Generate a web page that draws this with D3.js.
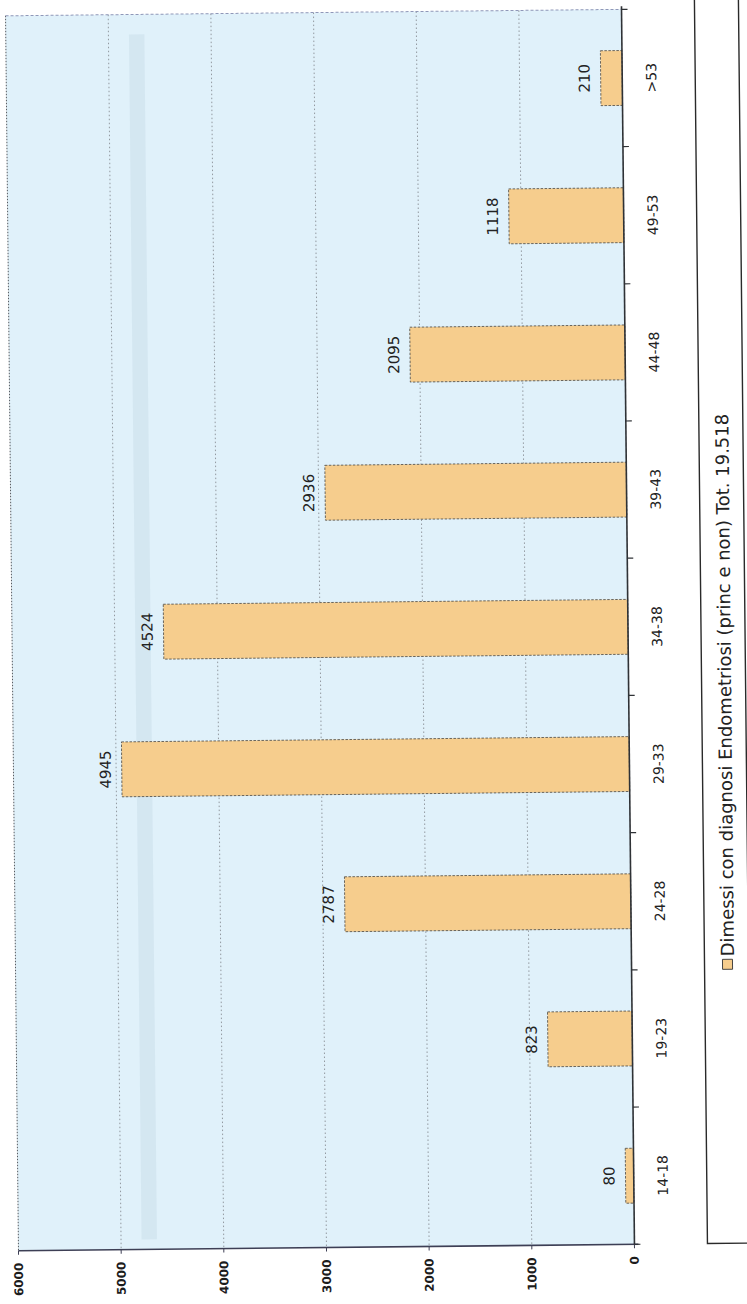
<!DOCTYPE html>
<html>
<head>
<meta charset="utf-8">
<script src="https://cdn.jsdelivr.net/npm/d3@7"></script>
<style>
  html, body { margin: 0; padding: 0; background: #ffffff; }
  svg { display: block; }
</style>
</head>
<body>
<svg id="chart" width="747" height="1304"></svg>
<script>
// Age classes of patients discharged with an endometriosis diagnosis
const categories = ["14-18", "19-23", "24-28", "29-33", "34-38", "39-43", "44-48", "49-53", ">53"];
const values = [80, 823, 2787, 4945, 4524, 2936, 2095, 1118, 210];
const valueTicks = [0, 1000, 2000, 3000, 4000, 5000, 6000];
const legendLabel = "Dimessi con diagnosi Endometriosi (princ e non) Tot. 19.518";

const plot = { left: 12, right: 628, top: 12, bottom: 1247 };

const svg = d3.select("#chart");
// the printed page sits slightly askew
const root = svg.append("g").attr("transform", "rotate(-0.6, 373, 630)");

// value axis runs right-to-left, categories bottom-to-top
const x = d3.scaleLinear().domain([0, 6000]).range([plot.right, plot.left]);
const y = d3.scaleBand()
  .domain(categories)
  .range([plot.bottom, plot.top])
  .paddingInner(0.6)
  .paddingOuter(0.3);

// plot background
root.append("rect")
  .attr("x", plot.left).attr("y", plot.top)
  .attr("width", plot.right - plot.left).attr("height", plot.bottom - plot.top)
  .attr("fill", "#e0f1fa");

// faint darker band running down the page
root.append("rect")
  .attr("x", x(4800)).attr("y", plot.top + 20)
  .attr("width", x(4650) - x(4800)).attr("height", plot.bottom - plot.top - 30)
  .attr("fill", "#b9cfdd").attr("opacity", 0.3);

// gridlines
root.append("g").selectAll("line")
  .data(valueTicks.filter(d => d > 0 && d < 6000))
  .join("line")
  .attr("x1", d => x(d)).attr("x2", d => x(d))
  .attr("y1", plot.top).attr("y2", plot.bottom)
  .attr("stroke", "#8a8f96").attr("stroke-width", 0.9)
  .attr("stroke-dasharray", "1.5,2.5");

// far border (6000) and top border
root.append("line")
  .attr("x1", x(6000)).attr("x2", x(6000))
  .attr("y1", plot.top).attr("y2", plot.bottom)
  .attr("stroke", "#555a60").attr("stroke-width", 1).attr("stroke-dasharray", "1.5,1.5");
root.append("line")
  .attr("x1", plot.left).attr("x2", plot.right)
  .attr("y1", plot.top).attr("y2", plot.top)
  .attr("stroke", "#8f97b8").attr("stroke-width", 1).attr("stroke-dasharray", "3,2");

// bars
const rows = categories.map((c, i) => ({ c, v: values[i] }));
root.append("g").selectAll("rect")
  .data(rows)
  .join("rect")
  .attr("x", d => x(d.v))
  .attr("y", d => y(d.c))
  .attr("width", d => x(0) - x(d.v))
  .attr("height", y.bandwidth())
  .attr("fill", "#f6cd8d")
  .attr("stroke", "#5a5650").attr("stroke-width", 0.9)
  .attr("stroke-dasharray", "2.5,1.5");

// value labels at bar ends
root.append("g").selectAll("text")
  .data(rows)
  .join("text")
  .attr("transform", d => `translate(${x(d.v) - 11},${y(d.c) + y.bandwidth() / 2}) rotate(-90)`)
  .attr("text-anchor", "middle")
  .attr("font-family", "DejaVu Sans, Verdana, sans-serif")
  .attr("font-size", 15)
  .attr("fill", "#222")
  .text(d => d.v);

// value axis (bottom)
root.append("line")
  .attr("x1", plot.left).attr("x2", plot.right + 4)
  .attr("y1", plot.bottom).attr("y2", plot.bottom)
  .attr("stroke", "#3d3f55").attr("stroke-width", 1.6);
root.append("g").selectAll("line")
  .data(valueTicks)
  .join("line")
  .attr("x1", d => x(d)).attr("x2", d => x(d))
  .attr("y1", plot.bottom).attr("y2", plot.bottom + 4)
  .attr("stroke", "#3d3f55").attr("stroke-width", 1);
root.append("g").selectAll("text")
  .data(valueTicks)
  .join("text")
  .attr("transform", d => `translate(${x(d)},${plot.bottom + 12}) rotate(-90)`)
  .attr("text-anchor", "end")
  .attr("dy", "0.35em")
  .attr("font-family", "DejaVu Sans, Verdana, sans-serif")
  .attr("font-weight", "bold")
  .attr("font-size", 12)
  .attr("fill", "#1c1c1c")
  .text(d => d);

// category axis (right)
root.append("line")
  .attr("x1", plot.right).attr("x2", plot.right)
  .attr("y1", plot.top - 3).attr("y2", plot.bottom)
  .attr("stroke", "#2f3236").attr("stroke-width", 1.6);
const step = y.step();
const boundaries = d3.range(categories.length + 1).map(i => plot.bottom - i * step);
root.append("g").selectAll("line")
  .data(boundaries)
  .join("line")
  .attr("x1", plot.right).attr("x2", plot.right + 6)
  .attr("y1", d => d).attr("y2", d => d)
  .attr("stroke", "#2f3236").attr("stroke-width", 1.2);
root.append("g").selectAll("text")
  .data(categories)
  .join("text")
  .attr("transform", d => `translate(${plot.right + 34},${y(d) + y.bandwidth() / 2}) rotate(-90)`)
  .attr("text-anchor", "middle")
  .attr("font-family", "DejaVu Sans, Verdana, sans-serif")
  .attr("font-size", 14)
  .attr("fill", "#222")
  .text(d => d);

// legend
const legend = root.append("g");
legend.append("rect")
  .attr("x", 701).attr("y", 2)
  .attr("width", 44).attr("height", plot.bottom - 2)
  .attr("fill", "#ffffff")
  .attr("stroke", "#2a2a2a").attr("stroke-width", 1.4);
const lx = 724, ly = 968;
legend.append("rect")
  .attr("x", lx - 5).attr("y", ly - 5)
  .attr("width", 10).attr("height", 10)
  .attr("fill", "#f6cd8d").attr("stroke", "#333").attr("stroke-width", 0.9);
legend.append("text")
  .attr("transform", `translate(${lx},${ly - 8}) rotate(-90)`)
  .attr("text-anchor", "start")
  .attr("dy", "0.36em")
  .attr("font-family", "DejaVu Sans, Verdana, sans-serif")
  .attr("font-size", 18)
  .attr("fill", "#222")
  .text(legendLabel);
</script>
</body>
</html>
